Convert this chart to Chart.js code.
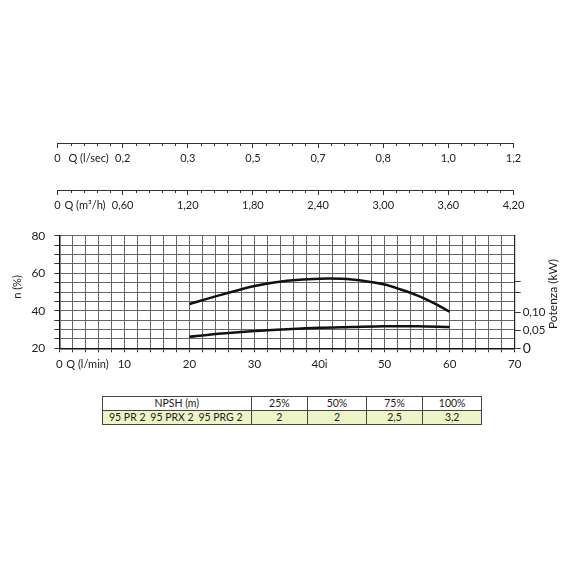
<!DOCTYPE html>
<html>
<head>
<meta charset="utf-8">
<script src="https://cdn.jsdelivr.net/npm/chart.js@4.4.1/dist/chart.umd.min.js"></script>
<style>
  html, body { margin: 0; padding: 0; background: #fff; }
  #wrap { position: relative; width: 570px; height: 570px; overflow: hidden; }
  canvas { position: absolute; left: 0; top: 0; }
  #npsh { position: absolute; left: 102px; top: 396px; width: 380px; table-layout: fixed;
          border-collapse: collapse; font-family: Lato, "Noto Sans", sans-serif; font-size: 10.5px; color: #222; }
  #npsh td { border: 1px solid #444; padding: 0; text-align: center; line-height: 13px; height: 13px; }
  #npsh tr.vals td { background: #eef4c6; }
  #npsh .models { display: flex; justify-content: space-between; padding: 0 8px 0 6px; }
</style>
</head>
<body>
<div id="wrap">
  <canvas id="topAxes" width="570" height="222"></canvas>
  <canvas id="main" width="570" height="380"></canvas>
  <table id="npsh"></table>
</div>
<script>
// rendimento n (%), portata in l/min
const effFlow = [20, 25, 30, 35, 40, 45, 50, 52.5, 55, 57.5, 60];
const efficiency = [43.6, 48.6, 53.2, 56.0, 57.1, 56.7, 54.0, 51.3, 48.2, 44.2, 39.5];
// potenza assorbita (kW)
const powFlow = [20, 25, 30, 35, 40, 45, 50, 55, 60];
const powerKw = [0.032, 0.041, 0.048, 0.053, 0.057, 0.059, 0.061, 0.061, 0.059];

// etichette assi
const lminLabels = ['0', '10', '20', '30', '40i', '50', '60', '70'];
const lsecLabels = ['0', '0,2', '0,3', '0,5', '0,7', '0,8', '1,0', '1,2'];
const m3hLabels = ['0', '0,60', '1,20', '1,80', '2,40', '3,00', '3,60', '4,20'];
const powerTicks = [0, 0.05, 0.10, 0.155, 0.185];
const powerLabels = ['0', '0,05', '0,10', '', ''];

// tabella NPSH
const npshTitle = 'NPSH (m)';
const npshHeaders = ['25%', '50%', '75%', '100%'];
const npshValues = ['2', '2', '2,5', '3,2'];
const models = ['95 PR 2', '95 PRX 2', '95 PRG 2'];

const FONT = 'Lato, "Noto Sans", sans-serif';
const TXT = '#222';
const MINOR = 2;

// tacche minori sugli assi orizzontali
const minorTicks = {
  id: 'minorTicks',
  afterDraw(chart, args, opts) {
    const ctx = chart.ctx;
    (opts.axes || []).forEach(function(id) {
      const s = chart.scales[id];
      ctx.save();
      ctx.strokeStyle = '#333';
      ctx.lineWidth = 1;
      for (let v = s.min; v <= s.max; v += MINOR) {
        if (v % 10 === 0) continue;
        const x = Math.round(s.getPixelForValue(v)) + 0.5;
        ctx.beginPath();
        ctx.moveTo(x, s.top);
        ctx.lineTo(x, s.top + 3);
        ctx.stroke();
      }
      ctx.restore();
    });
  }
};

// testi degli assi (Q ..., n (%), Potenza)
const axisTexts = {
  id: 'axisTexts',
  afterDraw(chart, args, opts) {
    const ctx = chart.ctx;
    (opts.items || []).forEach(function(it) {
      const s = chart.scales[it.axis];
      ctx.save();
      ctx.fillStyle = TXT;
      ctx.font = (it.size || 11) + 'px ' + FONT;
      ctx.textBaseline = 'middle';
      if (it.rotate) {
        const cy = (chart.chartArea.top + chart.chartArea.bottom) / 2 + (it.dy || 0);
        ctx.translate(it.x, cy);
        ctx.rotate(-Math.PI / 2);
        ctx.textAlign = 'center';
        ctx.fillText(it.text, 0, 0);
      } else {
        ctx.textAlign = 'left';
        ctx.fillText(it.text, s.left + it.dx, s.top + it.dy);
      }
      ctx.restore();
    });
  }
};

Chart.register(minorTicks, axisTexts);

function topScale(labels, h, pad) {
  return {
    type: 'linear',
    position: 'bottom',
    min: 0,
    max: 70,
    afterFit: function(s) { s.height = h; },
    border: { display: true, color: '#333', width: 1 },
    grid: { drawOnChartArea: false, drawTicks: true, tickLength: 5, tickColor: '#333' },
    ticks: {
      stepSize: 10,
      autoSkip: false,
      maxRotation: 0,
      padding: pad,
      color: TXT,
      font: { family: FONT, size: 11 },
      callback: function(v, i) { return labels[i]; }
    }
  };
}

new Chart(document.getElementById('topAxes'), {
  type: 'scatter',
  data: { datasets: [] },
  options: {
    responsive: false,
    animation: false,
    layout: { padding: { top: 142, left: 57.5, right: 56.5, bottom: 0 } },
    plugins: {
      legend: { display: false },
      tooltip: { enabled: false },
      minorTicks: { axes: ['xs', 'xm'] },
      axisTexts: {
        items: [
          { axis: 'xs', text: 'Q (l/sec)', dx: 11, dy: 15.5 },
          { axis: 'xm', text: 'Q (m³/h)', dx: 7, dy: 15 }
        ]
      }
    },
    scales: {
      xs: topScale(lsecLabels, 47, 4),
      xm: topScale(m3hLabels, 32, 3.5),
      y: { display: false, min: 0, max: 1 }
    }
  }
});

new Chart(document.getElementById('main'), {
  type: 'line',
  data: {
    datasets: [
      {
        label: 'n (%)',
        data: effFlow.map(function(x, i) { return { x: x, y: efficiency[i] }; }),
        yAxisID: 'y',
        borderColor: '#111',
        borderWidth: 2.5,
        pointRadius: 0,
        tension: 0.3,
        fill: false
      },
      {
        label: 'Potenza (kW)',
        data: powFlow.map(function(x, i) { return { x: x, y: powerKw[i] }; }),
        yAxisID: 'y1',
        borderColor: '#111',
        borderWidth: 2.5,
        pointRadius: 0,
        tension: 0.3,
        fill: false
      }
    ]
  },
  options: {
    responsive: false,
    animation: false,
    layout: { padding: { top: 235.7, left: 0, right: 0, bottom: 0 } },
    plugins: {
      legend: { display: false },
      tooltip: { enabled: false },
      axisTexts: {
        items: [
          { axis: 'x', text: 'Q (l/min)', dx: 7, dy: 16.5 },
          { axis: 'y', text: 'n (%)', rotate: true, x: 17, dy: -5 },
          { axis: 'y1', text: 'Potenza (kW)', rotate: true, x: 553, dy: 2, size: 12 }
        ]
      }
    },
    scales: {
      x: {
        type: 'linear',
        min: 0,
        max: 70,
        afterFit: function(s) { s.height = 31.7; },
        border: { display: true, color: '#111', width: 1.5 },
        grid: { color: '#666', lineWidth: 1, tickLength: 4, tickColor: '#333' },
        ticks: {
          stepSize: MINOR,
          autoSkip: false,
          maxRotation: 0,
          padding: 5,
          color: TXT,
          font: { family: FONT, size: 11.5 },
          callback: function(v) { return v % 10 === 0 ? lminLabels[v / 10] : ''; }
        }
      },
      y: {
        type: 'linear',
        position: 'left',
        min: 20,
        max: 80,
        afterFit: function(s) { s.width = 59.3; },
        border: { display: true, color: '#111', width: 1.5 },
        grid: { color: '#666', lineWidth: 1, tickLength: 5, tickColor: '#333' },
        ticks: {
          stepSize: 5,
          autoSkip: false,
          padding: 9,
          color: TXT,
          font: { family: FONT, size: 12 },
          callback: function(v) { return v % 20 === 0 ? String(v) : ''; }
        }
      },
      y1: {
        type: 'linear',
        position: 'right',
        min: 0,
        max: 0.3128,
        afterFit: function(s) { s.width = 55.3; },
        afterBuildTicks: function(s) { s.ticks = powerTicks.map(function(v) { return { value: v }; }); },
        border: { display: true, color: '#222', width: 1.2 },
        grid: { drawOnChartArea: false, tickLength: 6, tickColor: '#333' },
        ticks: {
          autoSkip: false,
          padding: 2,
          color: TXT,
          font: function(c) { return { family: FONT, size: c.index === 0 ? 14 : 11.5 }; },
          callback: function(v, i) { return powerLabels[i]; }
        }
      }
    }
  }
});

// tabella NPSH
(function() {
  const t = document.getElementById('npsh');
  const widths = [147, 56, 58, 56, 58];
  let h = '<colgroup>';
  widths.forEach(function(w) { h += '<col style="width:' + w + 'px">'; });
  h += '</colgroup><tr><td>' + npshTitle + '</td>';
  npshHeaders.forEach(function(s) { h += '<td>' + s + '</td>'; });
  h += '</tr><tr class="vals"><td><div class="models">';
  models.forEach(function(m) { h += '<span>' + m + '</span>'; });
  h += '</div></td>';
  npshValues.forEach(function(v) { h += '<td>' + v + '</td>'; });
  h += '</tr>';
  t.innerHTML = h;
})();
</script>
</body>
</html>
